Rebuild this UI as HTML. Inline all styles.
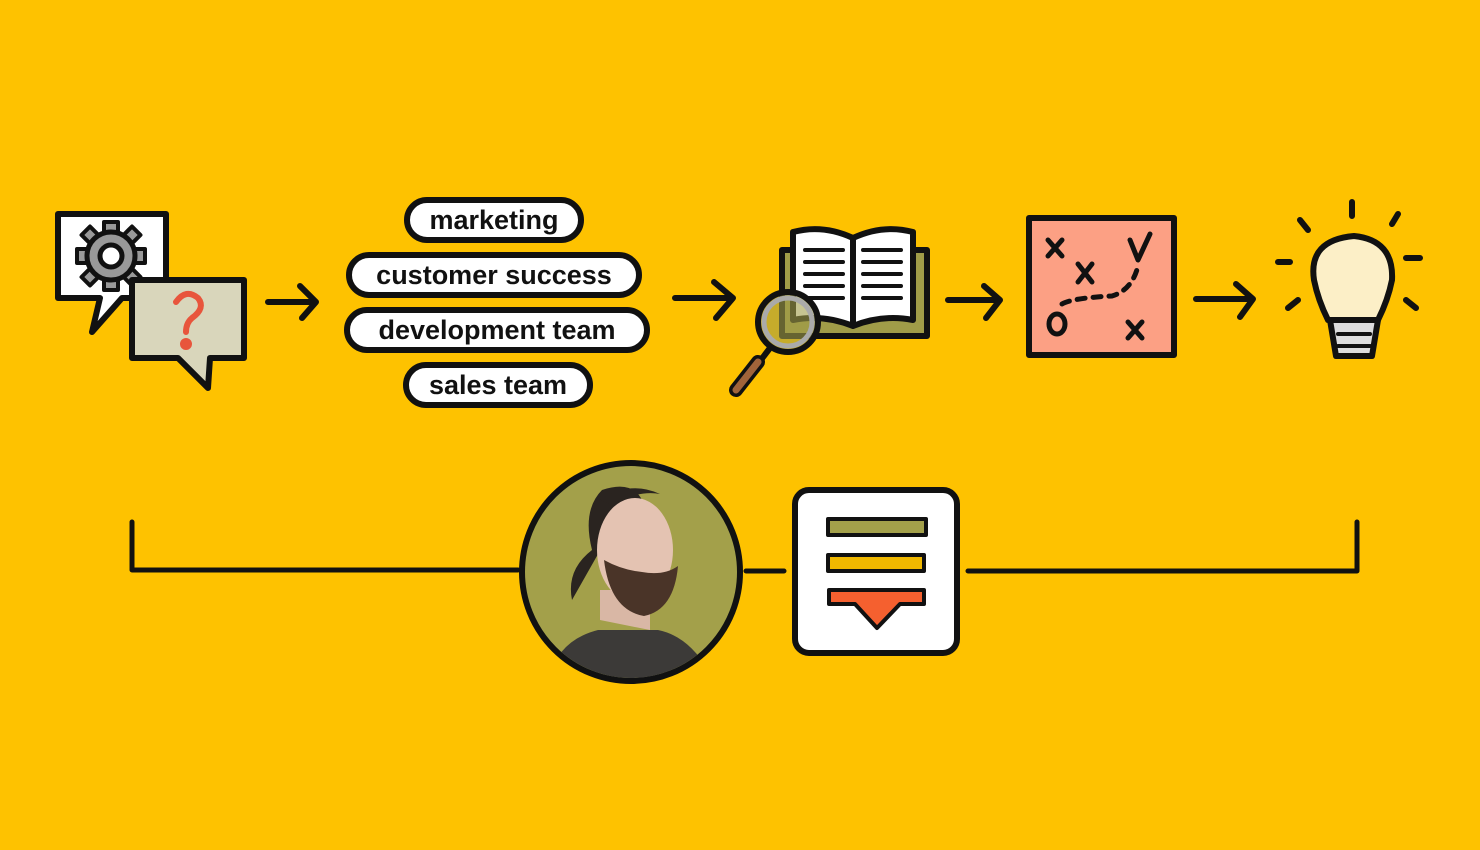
<!DOCTYPE html>
<html><head><style>
html,body{margin:0;padding:0;background:#fec200;}
svg{display:block}
text{font-family:"Liberation Sans",sans-serif;font-weight:bold;}
</style></head><body>
<svg width="1480" height="850" viewBox="0 0 1480 850" xmlns="http://www.w3.org/2000/svg">
<rect width="1480" height="850" fill="#fec200"/>
<g stroke="#111" stroke-width="6" stroke-linejoin="round" stroke-linecap="round">
<!-- speech bubbles -->
<path d="M58 214 H166 V298 H122 L92 332 L100 298 H58 Z" fill="#fff"/>
<g fill="#999" stroke-width="4">
<rect x="104" y="222" width="14" height="12"/><rect x="104" y="278" width="14" height="12"/>
<rect x="77" y="249" width="12" height="14"/><rect x="133" y="249" width="12" height="14"/>
<rect x="84" y="229" width="12" height="12" transform="rotate(45 90 235)"/><rect x="126" y="229" width="12" height="12" transform="rotate(45 132 235)"/>
<rect x="84" y="271" width="12" height="12" transform="rotate(45 90 277)"/><rect x="126" y="271" width="12" height="12" transform="rotate(45 132 277)"/>
</g>
<circle cx="111" cy="256" r="24" fill="#999" stroke-width="5"/>
<circle cx="111" cy="256" r="11" fill="#fff" stroke-width="5"/>
<path d="M132 280 H244 V358 H210 L208 388 L178 358 H132 Z" fill="#d9d6bb"/>
<path d="M176 302 q10-14 22-4 q8 10-6 20 q-6 5-6 14" fill="none" stroke="#e8553c" stroke-width="6"/>
<circle cx="186" cy="344" r="3" fill="#e8553c" stroke="#e8553c"/>
<!-- arrows -->
<path d="M268 302 H316 M300 286 L316 302 L302 318" fill="none"/>
<path d="M675 298 H733 M714 282 L733 298 L716 318" fill="none"/>
<path d="M948 300 H1000 M984 286 L1000 300 L986 318" fill="none"/>
<path d="M1196 299 H1253 M1236 284 L1253 299 L1240 317" fill="none"/>
<!-- pills -->
<rect x="407" y="200" width="174" height="40" rx="20" fill="#fff"/>
<rect x="349" y="255" width="290" height="40" rx="20" fill="#fff"/>
<rect x="347" y="310" width="300" height="40" rx="20" fill="#fff"/>
<rect x="406" y="365" width="184" height="40" rx="20" fill="#fff"/>
<!-- book -->
<rect x="782" y="250" width="145" height="86" fill="#a09c48"/>
<path d="M793 232 q30-8 60 6 V326 q-30-12-60-6 Z" fill="#fff"/>
<path d="M853 238 q30-14 60-6 V320 q-30-6-60 6 Z" fill="#fff"/>
<g stroke-width="4"><path d="M805 250h38M805 262h38M805 274h38M805 286h38M805 298h38M863 250h38M863 262h38M863 274h38M863 286h38M863 298h38"/></g>
<path d="M770 348 L738 390" stroke="#111" stroke-width="6"/>
<path d="M758 362 L736 390" stroke="#111" stroke-width="14"/>
<path d="M758 362 L736 390" stroke="#a0643a" stroke-width="7"/>
<circle cx="788" cy="322" r="30" fill="#a09c48" fill-opacity=".6" stroke="#111" stroke-width="6"/>
<circle cx="788" cy="322" r="24" fill="none" stroke="#aaa" stroke-width="5"/>
<!-- map -->
<rect x="1029" y="218" width="145" height="137" fill="#fca084"/>
<g stroke-width="5" fill="none"><path d="M1048 240l14 16M1062 240l-14 16M1078 264l14 18M1092 264l-14 18M1128 322l14 16M1142 322l-14 16M1130 240l8 20l12-26"/>
<ellipse cx="1057" cy="324" rx="8" ry="10"/>
<path d="M1062 304 q10-6 50-8 q20-6 26-30" stroke-dasharray="8 8"/></g>
<!-- bulb -->
<path d="M1328 320 q-10-20-14-40 q-6-40 40-44 q40 4 38 44 q-4 20-14 40 Z" fill="#fcefc7"/>
<path d="M1330 320 h48 l-6 36 h-36 Z" fill="#ddd"/>
<path d="M1338 334h32M1338 346h32" stroke-width="4"/>
<g stroke-width="6"><path d="M1352 202v14M1300 220l8 10M1398 214l-6 10M1278 262h12M1406 258h14M1288 308l10-8M1406 300l10 8"/></g>
<!-- bottom bracket -->
<path d="M132 522 V570 H518 M746 571 H784 M968 571 H1357 V522" fill="none" stroke-width="5"/>
<circle cx="631" cy="572" r="109" fill="#a3a04a" stroke-width="6"/>
<!-- card -->
<rect x="795" y="490" width="162" height="163" rx="14" fill="#fff"/>
<rect x="828" y="519" width="98" height="16" fill="#a3a04a" stroke-width="4"/>
<rect x="828" y="555" width="96" height="16" fill="#f0b800" stroke-width="4"/>
<path d="M829 590 H924 V604 H900 L877 628 L855 604 H829 Z" fill="#f5602f" stroke-width="4"/>
</g>
<!-- person approx -->
<clipPath id="c"><circle cx="631" cy="572" r="106"/></clipPath>
<g clip-path="url(#c)">
<path d="M548 680 q10-40 50-50 h60 q30 6 50 40 v20 h-160 Z" fill="#3c3a38"/>
<path d="M600 620 v-30 h50 v40 Z" fill="#d9b7a5"/>
<path d="M572 600 q-6-30 20-50 q-10-40 10-60 q30-10 40 10 q-30 0-36 40 Z" fill="#2a2420"/>
<ellipse cx="635" cy="550" rx="38" ry="52" fill="#e4c3b2"/>
<path d="M600 500 q30-20 60-6 q-20-4-50 10 Z" fill="#2a2420"/>
<path d="M604 560 q6 50 40 56 q30-6 34-50 q-14 10-36 6 q-20-2-38-12 Z" fill="#4a3428"/>
</g>
<g font-size="27" fill="#111" text-anchor="middle">
<text x="494" y="229">marketing</text>
<text x="494" y="284">customer success</text>
<text x="497" y="339">development team</text>
<text x="498" y="394">sales team</text>
</g>
</svg>
</body></html>
